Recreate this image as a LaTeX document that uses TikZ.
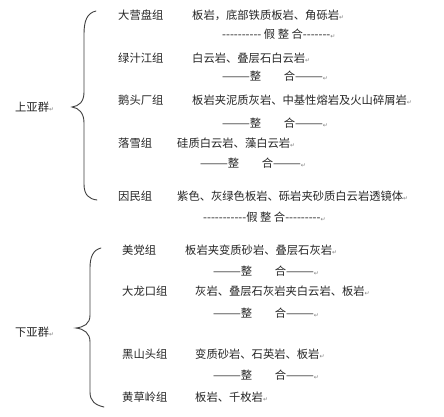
\documentclass[tikz,border=0pt]{standalone}
\usepackage{fontspec}
\setmainfont[Ligatures=TeXOff]{Noto Sans CJK SC}
\newfontfamily\dvsfont{DejaVu Sans}
\newcommand\pmk{{\dvsfont\fontsize{6}{6}\selectfont\textcolor{gray}{↵}}}
\begin{document}
\begin{tikzpicture}[x=1pt,y=-1pt,
  txt/.style={anchor=west,inner sep=0pt,font=\fontsize{11.3}{12}\selectfont,text=black!85},
  brace/.style={draw=black!75,line width=0.9pt,line cap=round}]
\useasboundingbox[fill=white] (0,0) rectangle (444,417);
% labels
\node[txt] (up) at (15,107) {上亚群\pmk};
\node[txt] (lo) at (15,332) {下亚群\pmk};
% braces
\draw[brace] (96,11) .. controls (87,13) and (84,21) .. (84,34) -- (84,92)
  .. controls (84,102) and (79,106) .. (72,107)
  .. controls (79,108) and (84,113) .. (84,123) -- (84,184)
  .. controls (84,195) and (89,199) .. (97,200);
\draw[brace] (101,248) .. controls (93,250) and (90,257) .. (90,268) -- (90,315)
  .. controls (90,324) and (84,327) .. (76,328)
  .. controls (84,329) and (90,333) .. (90,342) -- (90,392)
  .. controls (90,401) and (95,405) .. (104,407);
% upper sub-group
\node[txt] (g1) at (118,15) {大营盘组};
\node[txt] (d1) at (192,15) {板岩，底部铁质板岩、角砾岩\pmk};
\node[txt] (u1) at (222,34) {---------- 假 整 合-------\pmk};
\node[txt] (g2) at (118,58) {绿汁江组};
\node[txt] (d2) at (192,58) {白云岩、叠层石白云岩\pmk};
\node[txt] (u2) at (222,76) {———整　　合———\pmk};
\node[txt] (g3) at (118,100) {鹅头厂组};
\node[txt] (d3) at (192,100) {板岩夹泥质灰岩、中基性熔岩及火山碎屑岩\pmk};
\node[txt] (u3) at (222,123) {———整　　合———\pmk};
\node[txt] (g4) at (118,143) {落雪组};
\node[txt] (d4) at (177,143) {硅质白云岩、藻白云岩\pmk};
\node[txt] (u4) at (200,163) {———整　　合———\pmk};
\node[txt] (g5) at (118,196) {因民组};
\node[txt] (d5) at (177,196) {紫色、灰绿色板岩、砾岩夹砂质白云岩透镜体\pmk};
\node[txt] (u5) at (203,217) {-----------假 整 合---------\pmk};
% lower sub-group
\node[txt] (g6) at (122,250) {美党组};
\node[txt] (d6) at (185,250) {板岩夹变质砂岩、叠层石灰岩\pmk};
\node[txt] (u6) at (213,271) {———整　　合———\pmk};
\node[txt] (g7) at (122,291) {大龙口组};
\node[txt] (d7) at (195,291) {灰岩、叠层石灰岩夹白云岩、板岩\pmk};
\node[txt] (u7) at (213,313) {———整　　合———\pmk};
\node[txt] (g8) at (122,354) {黑山头组};
\node[txt] (d8) at (195,354) {变质砂岩、石英岩、板岩\pmk};
\node[txt] (u8) at (213,375) {———整　　合———\pmk};
\node[txt] (g9) at (122,397) {黄草岭组};
\node[txt] (d9) at (195,397) {板岩、千枚岩\pmk};
\end{tikzpicture}
\end{document}
